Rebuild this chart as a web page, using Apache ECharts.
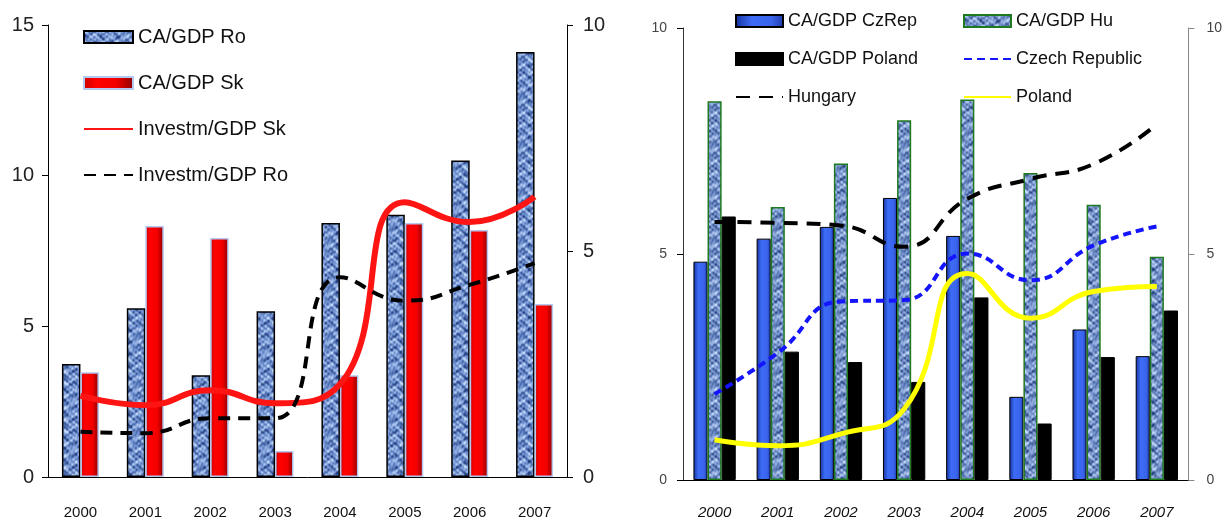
<!DOCTYPE html>
<html>
<head>
<meta charset="utf-8">
<script src="https://cdn.jsdelivr.net/npm/echarts@6/dist/echarts.min.js"></script>
<style>
  html, body { margin: 0; padding: 0; background: #fff; }
  #chart { width: 1225px; height: 520px; }
</style>
</head>
<body>
<div id="chart"></div>
<script>
// Categories shared by both panels
const years = ['2000', '2001', '2002', '2003', '2004', '2005', '2006', '2007'];

// Left panel: Romania and Slovakia
const caGdpRo = [3.75, 5.6, 3.38, 5.5, 8.43, 8.7, 10.5, 14.1];
const caGdpSk = [3.48, 8.33, 7.93, 0.86, 3.38, 8.43, 8.2, 5.74];
const investGdpSk = [1.8, 1.59, 1.92, 1.63, 2.05, 6.08, 5.64, 6.2];
const investGdpRo = [1.0, 0.97, 1.3, 1.3, 4.42, 3.9, 4.25, 4.73];

// Right panel: Czech Republic, Hungary, Poland
const caGdpCz = [4.83, 5.34, 5.6, 6.24, 5.4, 1.84, 3.33, 2.74];
const caGdpHu = [8.38, 6.04, 7.0, 7.96, 8.42, 6.79, 6.09, 4.94];
const caGdpPl = [5.83, 2.84, 2.61, 2.17, 4.04, 1.25, 2.72, 3.75];
const czechRep = [1.9, 2.81, 3.95, 3.98, 5.01, 4.42, 5.19, 5.61];
const hungary = [5.71, 5.69, 5.63, 5.16, 6.22, 6.66, 6.99, 7.87];
const poland = [0.89, 0.76, 1.02, 1.57, 4.57, 3.58, 4.17, 4.28];

// Tick values for the value axes
const leftTicks = { min: 0, max: 15, interval: 5 };
const rightTicks = { min: 0, max: 10, interval: 5 };

// Mottled blue fill (a seamless tile built from periodic blob waves)
function mottled(dark, mid, light) {
  const N = 48;
  const c = document.createElement('canvas');
  c.width = N; c.height = N;
  const g = c.getContext('2d');
  const img = g.createImageData(N, N);
  const T = 2 * Math.PI / N;
  const lerp = (a, b, t) => a.map((v, i) => v + (b[i] - v) * t);
  for (let y = 0; y < N; y++) {
    for (let x = 0; x < N; x++) {
      const v = Math.sin(T * 3 * x + 1) * Math.sin(T * 4 * y + 2)
              + 0.8 * Math.sin(T * (5 * x + 2 * y)) * Math.sin(T * (6 * y - x) + 1)
              + 0.6 * Math.sin(T * 8 * x + 0.5) * Math.sin(T * 9 * y + 1.5)
              + 0.45 * Math.sin(T * (11 * x - 3 * y) + 2.2) * Math.sin(T * (7 * y + 4 * x) + 0.7);
      const t = Math.max(0, Math.min(1, (v / 1.6 + 1) / 2));
      const col = t < 0.5 ? lerp(dark, mid, t * 2) : lerp(mid, light, (t - 0.5) * 2);
      const k = (y * N + x) * 4;
      img.data[k] = col[0]; img.data[k + 1] = col[1]; img.data[k + 2] = col[2]; img.data[k + 3] = 255;
    }
  }
  g.putImageData(img, 0, 0);
  return { image: c, repeat: 'repeat' };
}

const texRo = mottled([38, 66, 130], [112, 145, 208], [192, 214, 247]);
const texHu = mottled([42, 70, 128], [116, 146, 204], [194, 214, 245]);

const redGrad = { type: 'linear', x: 0, y: 0, x2: 1, y2: 0, colorStops: [
  { offset: 0, color: '#c80000' }, { offset: 0.25, color: '#ff0000' },
  { offset: 0.65, color: '#f40000' }, { offset: 1, color: '#880000' }] };
const blueGrad = { type: 'linear', x: 0, y: 0, x2: 1, y2: 0, colorStops: [
  { offset: 0, color: '#13309c' }, { offset: 0.35, color: '#3d6cf6' },
  { offset: 0.75, color: '#3a64ec' }, { offset: 1, color: '#1b3aa6' }] };

const sans = "'Liberation Sans', Arial, sans-serif";

// Line legend entries show only the stroke
const lineOnly = { color: 'transparent', borderColor: 'transparent', borderWidth: 0, opacity: 0 };

function valueAxis(grid, pos, ticks, opts) {
  return Object.assign({
    type: 'value', gridIndex: grid, position: pos,
    min: ticks.min, max: ticks.max, interval: ticks.interval,
    splitLine: { show: false },
    axisLine: { show: true, lineStyle: { color: '#000', width: 1 } },
    axisTick: { show: true, length: 6, lineStyle: { color: '#000' } },
    axisLabel: { margin: 14, color: '#222' }
  }, opts);
}

const chart = echarts.init(document.getElementById('chart'));
chart.setOption({
  animation: false,
  backgroundColor: '#fff',
  grid: [
    { left: 48, right: 658, top: 25, bottom: 43 },
    { left: 683, right: 31, top: 28, bottom: 37 }
  ],
  legend: [
    {
      orient: 'vertical', left: 83, top: 26, padding: 0, itemWidth: 49, itemHeight: 12, itemGap: 24,
      textStyle: { fontFamily: sans, fontSize: 20, lineHeight: 22, color: '#111' },
      data: [
        { name: 'CA/GDP Ro', icon: 'rect' }, { name: 'CA/GDP Sk', icon: 'rect' },
        { name: 'Investm/GDP Sk', itemStyle: lineOnly }, { name: 'Investm/GDP Ro', itemStyle: lineOnly }
      ]
    },
    {
      orient: 'vertical', left: 735, top: 11, padding: 0, itemWidth: 47, itemHeight: 12, itemGap: 18,
      textStyle: { fontFamily: sans, fontSize: 18, lineHeight: 20, color: '#111' },
      data: [
        { name: 'CA/GDP CzRep', icon: 'rect' }, { name: 'CA/GDP Poland', icon: 'rect' },
        { name: 'Hungary', itemStyle: lineOnly }
      ]
    },
    {
      orient: 'vertical', left: 963, top: 11, padding: 0, itemWidth: 47, itemHeight: 12, itemGap: 18,
      textStyle: { fontFamily: sans, fontSize: 18, lineHeight: 20, color: '#111' },
      data: [
        { name: 'CA/GDP Hu', icon: 'rect' },
        { name: 'Czech Republic', itemStyle: lineOnly }, { name: 'Poland', itemStyle: lineOnly }
      ]
    }
  ],
  xAxis: [
    {
      type: 'category', gridIndex: 0, data: years,
      axisLine: { lineStyle: { color: '#000' } },
      axisTick: { length: 6, lineStyle: { color: '#000' } },
      axisLabel: { margin: 28, fontFamily: sans, fontSize: 15, color: '#111' }
    },
    {
      type: 'category', gridIndex: 1, data: years,
      axisLine: { lineStyle: { color: '#000' } },
      axisTick: { length: 6, lineStyle: { color: '#000' } },
      axisLabel: { margin: 25, fontFamily: sans, fontSize: 15, fontStyle: 'italic', color: '#111' }
    }
  ],
  yAxis: [
    valueAxis(0, 'left', leftTicks, { axisLabel: { margin: 14, color: '#222', fontFamily: sans, fontSize: 20 } }),
    valueAxis(0, 'right', rightTicks, { axisLabel: { margin: 16, color: '#222', fontFamily: sans, fontSize: 20 } }),
    valueAxis(1, 'left', rightTicks, {
      axisLine: { show: true, lineStyle: { color: '#333' } },
      axisLabel: { margin: 16, color: '#444', fontFamily: sans, fontSize: 14 }
    }),
    valueAxis(1, 'right', rightTicks, {
      axisLine: { show: true, lineStyle: { color: '#888' } },
      axisTick: { show: true, length: 6, lineStyle: { color: '#888' } },
      axisLabel: { margin: 18, color: '#444', fontFamily: sans, fontSize: 14 }
    })
  ],
  series: [
    {
      name: 'CA/GDP Ro', type: 'bar', xAxisIndex: 0, yAxisIndex: 0, data: caGdpRo,
      barGap: '0%', barCategoryGap: '43%',
      itemStyle: { color: texRo, borderColor: '#000', borderWidth: 1.5 }
    },
    {
      name: 'CA/GDP Sk', type: 'bar', xAxisIndex: 0, yAxisIndex: 0, data: caGdpSk,
      barGap: '0%', barCategoryGap: '43%',
      itemStyle: { color: redGrad, borderColor: '#b4c8f0', borderWidth: 1.5 }
    },
    {
      name: 'Investm/GDP Sk', type: 'line', xAxisIndex: 0, yAxisIndex: 1, data: investGdpSk,
      smooth: 0.5, symbol: 'none', color: '#ff1010',
      lineStyle: { color: '#ff1414', width: 6 }
    },
    {
      name: 'Investm/GDP Ro', type: 'line', xAxisIndex: 0, yAxisIndex: 1, data: investGdpRo,
      smooth: 0.5, symbol: 'none', color: '#000',
      lineStyle: { color: '#000', width: 4, type: [12, 8] }
    },
    {
      name: 'CA/GDP CzRep', type: 'bar', xAxisIndex: 1, yAxisIndex: 2, data: caGdpCz,
      barGap: '0%', barCategoryGap: '33%',
      itemStyle: { color: blueGrad, borderColor: '#000', borderWidth: 1 }
    },
    {
      name: 'CA/GDP Hu', type: 'bar', xAxisIndex: 1, yAxisIndex: 2, data: caGdpHu,
      barGap: '0%', barCategoryGap: '33%',
      itemStyle: { color: texHu, borderColor: '#1f7a1f', borderWidth: 1.5 }
    },
    {
      name: 'CA/GDP Poland', type: 'bar', xAxisIndex: 1, yAxisIndex: 2, data: caGdpPl,
      barGap: '0%', barCategoryGap: '33%',
      itemStyle: { color: '#000', borderColor: '#000', borderWidth: 1 }
    },
    {
      name: 'Czech Republic', type: 'line', xAxisIndex: 1, yAxisIndex: 3, data: czechRep,
      smooth: 0.5, symbol: 'none', color: '#1414ff',
      lineStyle: { color: '#1414ff', width: 4, type: [8, 5] }
    },
    {
      name: 'Hungary', type: 'line', xAxisIndex: 1, yAxisIndex: 3, data: hungary,
      smooth: 0.5, symbol: 'none', color: '#000',
      lineStyle: { color: '#000', width: 4, type: [14, 9] }
    },
    {
      name: 'Poland', type: 'line', xAxisIndex: 1, yAxisIndex: 3, data: poland,
      smooth: 0.5, symbol: 'none', color: '#ffff00',
      lineStyle: { color: '#ffff00', width: 5 }
    }
  ]
});
</script>
</body>
</html>
